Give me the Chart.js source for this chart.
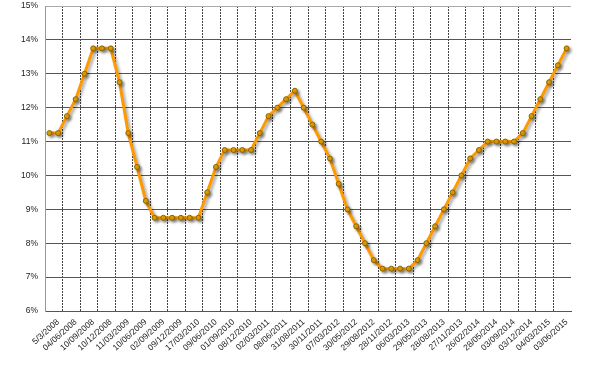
<!DOCTYPE html>
<html>
<head>
<meta charset="utf-8">
<script src="https://cdn.jsdelivr.net/npm/chart.js@4.4.1/dist/chart.umd.min.js"></script>
<style>
  html, body { margin: 0; padding: 0; background: #fff; }
  #wrap { width: 589px; height: 365px; }
</style>
</head>
<body>
<div id="wrap"><canvas id="myChart"></canvas></div>
<script>
// rate at each meeting (%), 60 points
const rates = [
    11.25, 11.25, 11.75, 12.25, 13.00, 13.75, 13.75, 13.75,
    12.75, 11.25, 10.25, 9.25, 8.75, 8.75, 8.75, 8.75,
    8.75, 8.75, 9.50, 10.25, 10.75, 10.75, 10.75, 10.75,
    11.25, 11.75, 12.00, 12.25, 12.50, 12.00, 11.50, 11.00,
    10.50, 9.75, 9.00, 8.50, 8.00, 7.50, 7.25, 7.25,
    7.25, 7.25, 7.50, 8.00, 8.50, 9.00, 9.50, 10.00,
    10.50, 10.75, 11.00, 11.00, 11.00, 11.00, 11.25, 11.75,
    12.25, 12.75, 13.25, 13.75
];

// dates printed under the axis (every second point)
const tickLabels = [
    "5/3/2008", "04/06/2008", "10/09/2008", "10/12/2008", "11/03/2009",
    "10/06/2009", "02/09/2009", "09/12/2009", "17/03/2010", "09/06/2010",
    "01/09/2010", "08/12/2010", "02/03/2011", "08/06/2011", "31/08/2011",
    "30/11/2011", "07/03/2012", "30/05/2012", "29/08/2012", "28/11/2012",
    "06/03/2013", "29/05/2013", "28/08/2013", "27/11/2013", "26/02/2014",
    "28/05/2014", "03/09/2014", "03/12/2014", "04/03/2015", "03/06/2015"
];

const yMin = 6, yMax = 15;

// unlabeled meetings sit between the printed dates
const labels = [];
tickLabels.forEach((t) => {
    labels.push("");
    labels.push(t);
});

// soft drop shadow under the line, like the original
const shadowPlugin = {
    id: 'lineShadow',
    beforeDatasetsDraw(chart) {
        const ctx = chart.ctx;
        ctx.save();
        ctx.shadowColor = 'rgba(0,0,0,0.35)';
        ctx.shadowBlur = 3;
        ctx.shadowOffsetX = 2;
        ctx.shadowOffsetY = 2;
    },
    afterDatasetsDraw(chart) {
        chart.ctx.restore();
    }
};

const tickFont = { family: "'Liberation Sans', Arial, sans-serif", size: 8.5 };

new Chart("myChart", {
    type: "line",
    data: {
        labels: labels,
        datasets: [{
            data: rates,
            borderColor: "#ff9900",
            borderWidth: 3,
            pointStyle: "circle",
            pointRadius: 2.5,
            pointBackgroundColor: "#e8a400",
            pointBorderColor: "#8a6200",
            pointBorderWidth: 1,
            tension: 0
        }]
    },
    options: {
        responsive: true,
        maintainAspectRatio: false,
        animation: false,
        layout: { padding: { top: 6, right: 18, left: 0, bottom: 0 } },
        plugins: {
            legend: { display: false },
            tooltip: { enabled: false }
        },
        scales: {
            x: {
                offset: true,
                grid: {
                    offset: true,
                    drawTicks: false,
                    lineWidth: 1,
                    color: (ctx) => (ctx.index % 2 === 0 && ctx.index > 0) ? (ctx.index === 60 ? "#888" : "#444") : "rgba(0,0,0,0)"
                },
                border: {
                    color: "#555",
                    width: 1,
                    dash: (ctx) => (ctx.index === 60 ? [] : [2, 1])
                },
                ticks: {
                    autoSkip: false,
                    minRotation: 42,
                    maxRotation: 42,
                    padding: 6,
                    color: "#222",
                    font: tickFont
                },
                afterFit: (scale) => { scale.height = 54; }
            },
            y: {
                min: yMin,
                max: yMax,
                grid: {
                    drawTicks: false,
                    color: (ctx) => ctx.index === 9 ? "#aaa" : "#555"
                },
                border: { color: "#999", width: 1 },
                ticks: {
                    stepSize: 1,
                    padding: 7,
                    color: "#222",
                    font: tickFont,
                    callback: (v) => v + "%"
                },
                afterFit: (scale) => {
                    scale.width = 45;
                    scale.paddingTop = 0;
                    scale.paddingBottom = 0;
                }
            }
        }
    },
    plugins: [shadowPlugin]
});
</script>
</body>
</html>
